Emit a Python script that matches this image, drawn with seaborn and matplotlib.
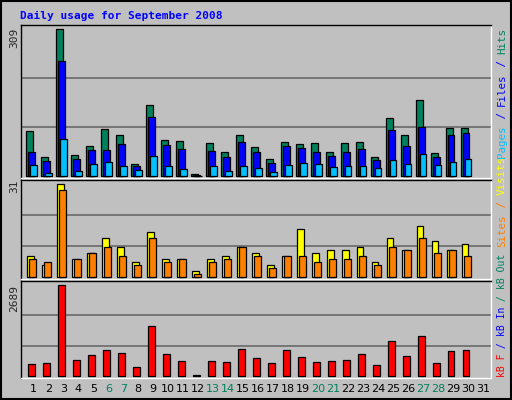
import matplotlib
matplotlib.use("Agg")
import matplotlib.pyplot as plt
import seaborn as sns
import numpy as np
import pandas as pd

days = list(range(1, 32))
hits = [95,40,309,44,63,99,86,25,149,76,74,4,69,50,86,61,36,71,67,69,50,69,71,40,122,86,160,48,101,101,0]
files = [50,32,242,36,55,55,67,21,124,65,57,3,53,40,71,50,27,63,59,50,42,50,57,34,97,63,103,40,86,90,0]
pages = [23,6,78,11,25,29,21,13,42,21,15,1,21,11,21,17,8,23,27,25,19,21,21,17,34,25,46,23,29,36,0]
visits = [7,4,31,6,8,13,10,5,15,6,6,2,6,7,10,8,4,7,16,8,9,9,10,5,13,9,17,12,9,11,0]
sites = [6,5,29,6,8,10,7,4,13,5,6,1,5,6,10,7,3,7,7,5,6,6,7,4,10,9,13,8,9,7,0]
kbytes = [363,393,2689,481,628,775,687,275,1482,657,451,39,451,422,805,540,393,775,569,422,451,481,657,334,1040,598,1187,393,746,775,0]
weekend = [6,7,13,14,20,21,27,28]

sns.set_theme(style="white")
plt.rcParams['font.family'] = ['DejaVu Sans Mono', 'DejaVu Sans']
BG = "#C0C0C0"
fig = plt.figure(figsize=(5.12, 4.0), dpi=100, facecolor=BG)
W, H = 512, 400

def axes_px(x0, y0, x1, y1):
    return fig.add_axes([x0 / W, 1 - y1 / H, (x1 - x0) / W, (y1 - y0) / H])

xl = (0.31, 31.66)
d = np.array(days, dtype=float)

def panel(ax, series, colors, offs, vmax, pad_lo, pad_hi):
    ax.set_facecolor(BG)
    for vals, c, o in zip(series, colors, offs):
        df = pd.DataFrame({"x": d + o, "y": vals})
        df = df[df.y > 0]
        sns.barplot(data=df, x="x", y="y", native_scale=True, width=0.45,
                    color=c, saturation=1, edgecolor="black", linewidth=0.9, ax=ax, zorder=3)
    for g in (vmax / 3, 2 * vmax / 3):
        ax.axhline(g, color="#707070", lw=1.3, zorder=1)
    ax.set_xlim(*xl)
    ax.set_ylim(-pad_lo * vmax, vmax * (1 + pad_hi))
    ax.set_xticks([]); ax.set_yticks([])
    ax.set_xlabel(""); ax.set_ylabel("")
    for s in ax.spines.values():
        s.set_color("black"); s.set_linewidth(1)
    ax.spines['bottom'].set_color("white"); ax.spines['right'].set_color("white")

ax1 = axes_px(21, 25, 491, 178)
panel(ax1, [hits, files, pages], ["#00805C", "#0000FF", "#00C0FF"], [-0.13, 0.0, 0.13], 309, 0.013, 0.027)
ax2 = axes_px(21, 180, 491, 279)
panel(ax2, [visits, sites], ["#FFFF00", "#FF8000"], [-0.07, 0.07], 31, 0.02, 0.04)
ax3 = axes_px(21, 281, 491, 378)
panel(ax3, [kbytes], ["#FF0000"], [0.0], 2689, 0.02, 0.04)

fig.text(20 / W, 1 - 16 / H, "Daily usage for September 2008", color="#0000FF",
         fontsize=8, fontweight="bold", va="center", ha="left")
fig.text(14 / W, 1 - 38 / H, "309", rotation=90, fontsize=8, ha="center", va="center")
fig.text(14 / W, 1 - 186 / H, "31", rotation=90, fontsize=8, ha="center", va="center")
fig.text(14 / W, 1 - 298 / H, "2689", rotation=90, fontsize=8, ha="center", va="center")

def rlabel_bottom(y_bot, parts, fs):
    step = 0.602 * fs * 100 / 72
    y = y_bot
    for txt, c in parts:
        fig.text(502 / W, 1 - y / H, txt, rotation=90, color=c, fontsize=fs,
                 ha="center", va="bottom")
        y -= step * len(txt)

rlabel_bottom(158, [("Pages", "#00C0FF"), (" / ", "#0000FF"), ("Files", "#0000FF"),
                    (" / ", "#0000FF"), ("Hits", "#00805C")], 7.8)
rlabel_bottom(247, [("Sites", "#FF8000"), (" / ", "#FF8000"), ("Visits", "#FFFF00")], 7.8)
rlabel_bottom(377, [("kB F", "#FF0000"), (" / ", "#0000FF"), ("kB In", "#0000FF"),
                    (" / ", "#00805C"), ("kB Out", "#00805C")], 7.0)

for day in days:
    xp = 21 + (day + 0.13 - xl[0]) / (xl[1] - xl[0]) * 470
    fig.text(xp / W, 1 - 389 / H, str(day), fontsize=8, ha="center", va="center",
             color="#00805C" if day in weekend else "black", family="DejaVu Sans")

fig.add_artist(plt.Rectangle((0.002, 0.002), 0.996, 0.996, transform=fig.transFigure,
                             fill=False, edgecolor="black", lw=1.5))
fig.savefig("out.png", dpi=100, facecolor=BG)
